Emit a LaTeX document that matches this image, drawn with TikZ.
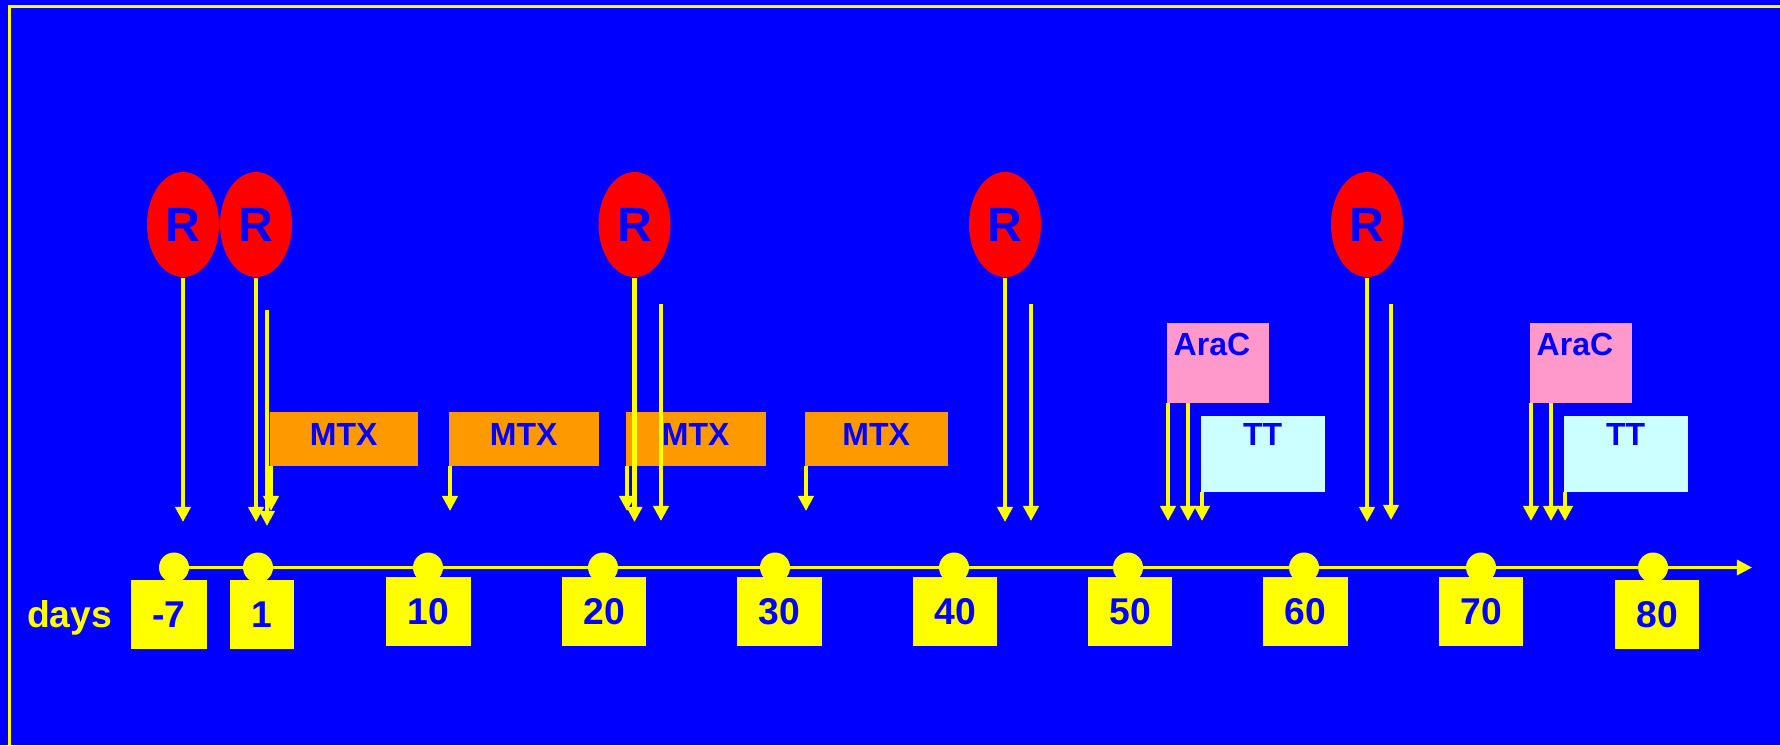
\documentclass[tikz,border=0pt]{standalone}
\usepackage{fontspec}
\setmainfont{Liberation Sans}
\usetikzlibrary{arrows.meta,shapes.geometric}
\definecolor{SlideBlue}{HTML}{0000FF}
\definecolor{SlideYellow}{HTML}{FFFF00}
\definecolor{SlideRed}{HTML}{FF0000}
\definecolor{SlideOrange}{HTML}{FF9900}
\definecolor{SlidePink}{HTML}{FF99CC}
\definecolor{SlideCyan}{HTML}{CCFFFF}
\newlength\pxu
\setlength\pxu{0.01cm}

\begin{document}
\begin{tikzpicture}[x=0.01cm,y=-0.01cm,
  rball/.style={ellipse,fill=SlideRed,inner sep=0pt,minimum width=72\pxu,minimum height=105\pxu,
    text=SlideBlue,font=\fontsize{13.7}{15}\selectfont\bfseries},
  drugbox/.style={fill=#1,anchor=north west,inner sep=0pt,text=SlideBlue,font=\fontsize{9.1}{10}\selectfont\bfseries},
  mtx/.style={drugbox=SlideOrange,minimum height=54\pxu,text height=23\pxu,text depth=9\pxu},
  arac/.style={drugbox=SlidePink,minimum width=102\pxu,minimum height=80\pxu,text width=88\pxu,
    align=left,text height=23\pxu,text depth=37\pxu},
  tt/.style={drugbox=SlideCyan,minimum width=124\pxu,minimum height=76\pxu,text height=23\pxu,text depth=39\pxu},
  dayball/.style={circle,fill=SlideYellow,inner sep=0pt,minimum size=30\pxu},
  daybox/.style={fill=SlideYellow,inner sep=0pt,minimum height=69\pxu,text=SlideBlue,
    font=\fontsize{10.6}{12}\selectfont\bfseries},
  arr/.style={SlideYellow,line width=1.2pt,-{Triangle[width=4.3pt,length=4.3pt]}}]
  \useasboundingbox (0,0) rectangle (1780,745);
  \fill[SlideBlue] (0,0) rectangle (1780,745);
  \draw[SlideYellow,line width=0.85pt] (1780,6.5) -- (9.5,6.5) -- (9.5,745);

  \node[anchor=base,text=SlideYellow,font=\fontsize{10.6}{12}\selectfont\bfseries] (days) at (69.5,627) {days};
  \foreach \dx/\bx/\by/\bw/\lab [count=\i] in {174/169/614.5/76/-7,258/262/614.5/64/1,
      428/428.5/611.5/85/10,603/604/611.5/84/20,775/779.5/611.5/85/30,954/955/611.5/84/40,
      1128/1130/611.5/84/50,1304/1305.5/611.5/85/60,1481/1481/611.5/84/70,1653/1657/614.5/84/80}{
    \node[dayball] (d\i) at (\dx,567.5) {};
    \node[daybox,minimum width=\bw\pxu] (n\i) at (\bx,\by) {\lab};
  }
  \coordinate (axisend) at (1752,567.5);
  \draw[SlideYellow,line width=0.85pt,-{Triangle[width=4.3pt,length=4.3pt]}] (d1.center) -- (axisend);

  \node[mtx,minimum width=148\pxu] (m1) at (269,411) {MTX};
  \node[mtx,minimum width=150\pxu] (m2) at (448,411) {MTX};
  \node[mtx,minimum width=140\pxu] (m3) at (625,411) {MTX};
  \node[mtx,minimum width=143\pxu] (m4) at (804,411) {MTX};
  \node[arac] (a1) at (1166,322) {AraC};
  \node[arac] (a2) at (1529,322) {AraC};
  \node[tt] (t1) at (1200,415) {TT};
  \node[tt] (t2) at (1563,415) {TT};

  \foreach \x [count=\i] in {183,256,634.5,1005,1367}
    \node[rball] (r\i) at (\x,224.5) {R};

  \coordinate (rtip) at (0,522);
  \coordinate (mtip) at (0,511);
  \coordinate (atip) at (0,521);
  \foreach \i in {1,...,5}
    \draw[arr] (r\i) -- (r\i |- rtip);
  \foreach \x/\a/\b [count=\i] in {267/310/526,661/304/521,1031/304/521,1391/304/520}{
    \coordinate (e\i) at (\x,\a);
    \coordinate (f\i) at (\x,\b);
    \draw[arr] (e\i) -- (f\i);
  }
  \foreach \i in {1,...,4}
    \draw[arr] ([xshift=2\pxu]m\i.south west) coordinate (ms\i) -- (ms\i |- mtip);
  \foreach \i in {1,2}{
    \draw[arr] ([xshift=2\pxu]a\i.south west) coordinate (as\i) -- (as\i |- atip);
    \draw[arr] ([xshift=22\pxu]a\i.south west) coordinate (ab\i) -- (ab\i |- atip);
    \draw[arr] ([xshift=2\pxu]t\i.south west) coordinate (ts\i) -- (ts\i |- atip);
  }
\end{tikzpicture}
\end{document}
